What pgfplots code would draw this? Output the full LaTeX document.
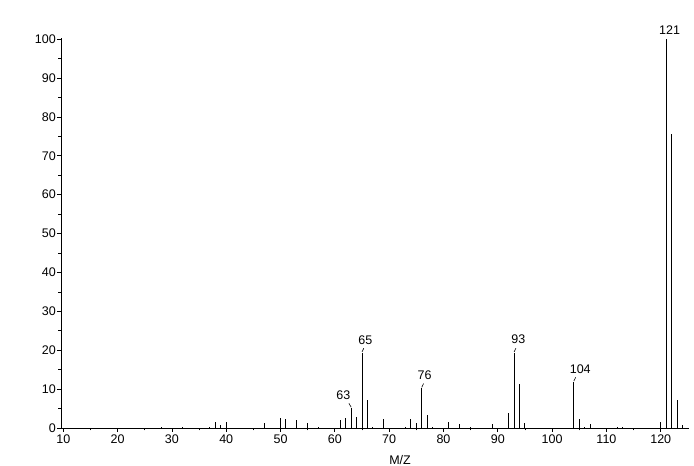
\documentclass[border=0pt]{standalone}
\usepackage{pgfplots}
\pgfplotsset{compat=1.18}
\usepackage{fontspec}
\setmainfont{Liberation Sans}
\begin{document}
\fontsize{12.5}{14}\selectfont
\begin{tikzpicture}[x=1pt,y=1pt]
\useasboundingbox (-61,-38) rectangle (633,428);
\begin{axis}[
  at={(0,0)}, anchor=south west,
  scale only axis, width=628pt, height=390pt,
  xmin=9.58, xmax=125.2, ymin=0, ymax=100.3,
  axis lines*=left,
  axis line style={-, line width=0.8pt},
  xtick={10,20,...,120}, ytick={0,10,...,100},
  minor xtick={15,25,...,115}, minor ytick={5,15,...,95},
  tick align=outside, major tick length=4pt, minor tick length=2.5pt,
  every tick/.style={black, line width=0.8pt},
  /pgf/number format/assume math mode=true,
  ticklabel style={font=\fontsize{12.5}{14}\selectfont},
  xticklabel style={inner sep=1pt, yshift=-2pt},
  yticklabel style={inner sep=1pt},
  clip=false,
]
\addplot[ycomb, black, line width=1pt, mark=none] coordinates {
(28,0.3) (32,0.3) (37,0.3) (38,1.5) (39,0.7) (40,1.5) (47,1.2)
(50,2.6) (51,2.3) (53,2.1) (55,1.3) (57,0.3)
(61,2.0) (62,2.5) (63,5.2) (64,2.8) (65,19.4) (66,7.3) (67,0.3) (69,2.2)
(73,0.3) (74,2.2) (75,1.4) (76,10.3) (77,3.3) (78,0.3)
(81,1.5) (83,0.9) (85,0.3) (89,1.1)
(92,3.9) (93,19.4) (94,11.3) (95,1.2)
(104,11.9) (105,2.3) (106,0.3) (107,1.1) (112,0.2) (113,0.2)
(120,1.5) (121,100) (122,75.5) (123,7.3) (124,0.8)
};
% peak labels
\tikzset{pl/.style={font=\fontsize{12.5}{14}\selectfont, inner sep=0pt, anchor=south}}
\node[pl, xshift=3.3pt, yshift=7.6pt] at (axis cs:65,19.4) {65};
\draw[line width=0.6pt] ([yshift=0.6pt]axis cs:65,19.4) -- ([shift={(1.8pt,4.4pt)}]axis cs:65,19.4);
\node[pl, xshift=2.8pt, yshift=8.4pt] at (axis cs:76,10.3) {76};
\draw[line width=0.6pt] ([yshift=0.6pt]axis cs:76,10.3) -- ([shift={(1.8pt,4.4pt)}]axis cs:76,10.3);
\node[pl, xshift=4.2pt, yshift=8.8pt] at (axis cs:93,19.4) {93};
\draw[line width=0.6pt] ([yshift=0.6pt]axis cs:93,19.4) -- ([shift={(1.8pt,4.4pt)}]axis cs:93,19.4);
\node[pl, xshift=6.4pt, yshift=8.4pt] at (axis cs:104,11.9) {104};
\draw[line width=0.6pt] ([yshift=0.6pt]axis cs:104,11.9) -- ([shift={(1.8pt,4.4pt)}]axis cs:104,11.9);
\node[pl, xshift=-7.8pt, yshift=8pt] at (axis cs:63,5.2) {63};
\draw[line width=0.6pt] ([yshift=0.6pt]axis cs:63,5.2) -- ([shift={(-2.2pt,4.4pt)}]axis cs:63,5.2);
\node[pl, xshift=3.4pt, yshift=4.6pt] at (axis cs:121,100) {121};
% axis title
\node[font=\fontsize{12.5}{14}\selectfont, inner sep=0pt, anchor=north] at (axis cs:72,0) [yshift=-27pt] {M/Z};
\end{axis}
\end{tikzpicture}
\end{document}
